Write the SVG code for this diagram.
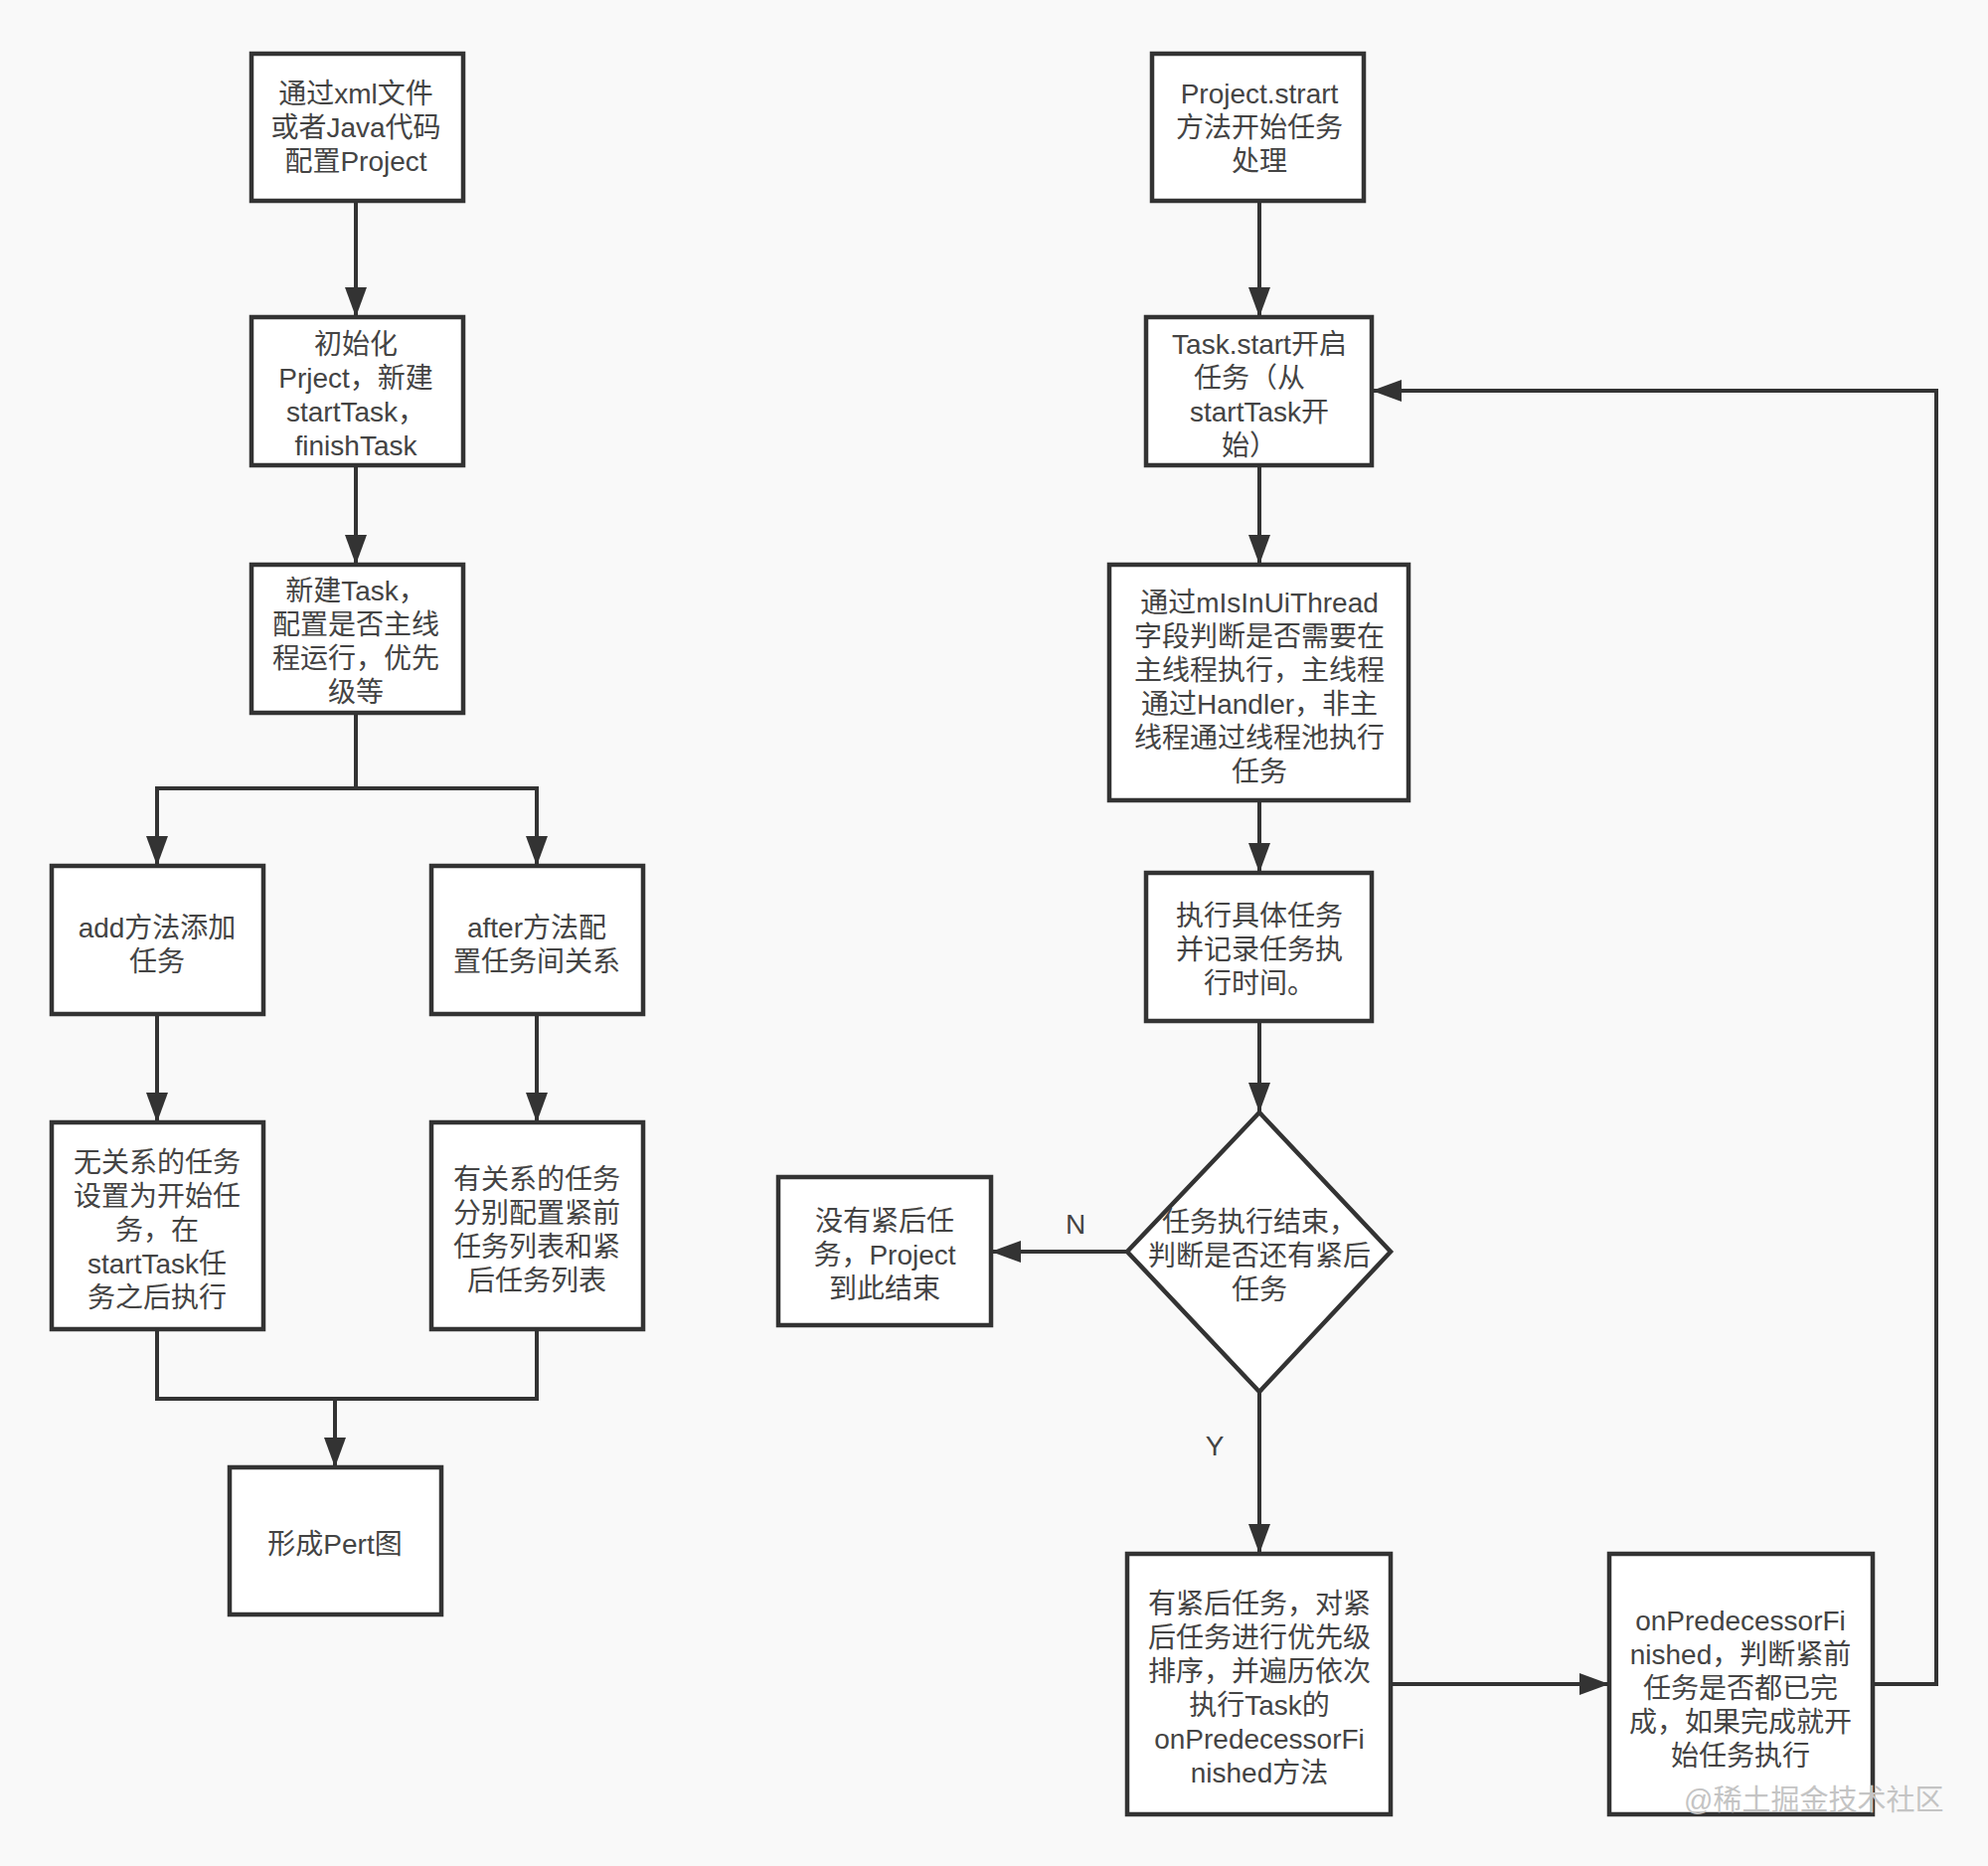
<svg xmlns="http://www.w3.org/2000/svg" width="2000" height="1877" viewBox="0 0 2000 1877">
<defs>
<style>
.box{fill:#ffffff;stroke:#333333;stroke-width:4.5}
.ln{fill:none;stroke:#333333;stroke-width:4}
.t{font-family:"Liberation Sans","Noto Sans CJK SC",sans-serif;font-size:28px;fill:#444444;text-anchor:middle;dominant-baseline:central}
.wm{font-family:"Liberation Sans","Noto Sans CJK SC",sans-serif;font-size:29px;fill:#c4c4c4;dominant-baseline:central}
</style>
<marker id="ah" markerUnits="userSpaceOnUse" markerWidth="30" markerHeight="22" refX="30" refY="11" orient="auto">
<path d="M0,0 L30,11 L0,22 z" fill="#333333"/>
</marker>
</defs>
<rect x="0" y="0" width="2000" height="1877" fill="#f9f9f9"/>

<g id="connectors">
<path class="ln" d="M358,202 V319" marker-end="url(#ah)"/>
<path class="ln" d="M358,468 V568" marker-end="url(#ah)"/>
<path class="ln" d="M358,717 V793"/>
<path class="ln" d="M358,793 H158 V871" marker-end="url(#ah)"/>
<path class="ln" d="M358,793 H540 V871" marker-end="url(#ah)"/>
<path class="ln" d="M158,1020 V1129" marker-end="url(#ah)"/>
<path class="ln" d="M540,1020 V1129" marker-end="url(#ah)"/>
<path class="ln" d="M158,1337 V1407 H540 V1337"/>
<path class="ln" d="M337,1407 V1476" marker-end="url(#ah)"/>
<path class="ln" d="M1267,202 V319" marker-end="url(#ah)"/>
<path class="ln" d="M1267,468 V568" marker-end="url(#ah)"/>
<path class="ln" d="M1267,805 V878" marker-end="url(#ah)"/>
<path class="ln" d="M1267,1027 V1119" marker-end="url(#ah)"/>
<path class="ln" d="M1134,1259 H997" marker-end="url(#ah)"/>
<path class="ln" d="M1267,1400 V1563" marker-end="url(#ah)"/>
<path class="ln" d="M1399,1694 H1619" marker-end="url(#ah)"/>
<path class="ln" d="M1884,1694 H1948 V393 H1380" marker-end="url(#ah)"/>
<text class="t" x="1082" y="1231">N</text>
<text class="t" x="1222" y="1454">Y</text>
</g>

<g id="n1">
<rect class="box" x="253" y="54" width="213" height="148"/>
<text class="t" x="358" y="94">通过xml文件</text>
<text class="t" x="358" y="128">或者Java代码</text>
<text class="t" x="358" y="162">配置Project</text>
</g>
<g id="n2">
<rect class="box" x="253" y="319" width="213" height="149"/>
<text class="t" x="358" y="346">初始化</text>
<text class="t" x="358" y="380">Prject，新建</text>
<text class="t" x="358" y="414">startTask，</text>
<text class="t" x="358" y="448">finishTask</text>
</g>
<g id="n3">
<rect class="box" x="253" y="568" width="213" height="149"/>
<text class="t" x="358" y="594">新建Task，</text>
<text class="t" x="358" y="628">配置是否主线</text>
<text class="t" x="358" y="662">程运行，优先</text>
<text class="t" x="358" y="696">级等</text>
</g>
<g id="n4">
<rect class="box" x="52" y="871" width="213" height="149"/>
<text class="t" x="158" y="933">add方法添加</text>
<text class="t" x="158" y="967">任务</text>
</g>
<g id="n5">
<rect class="box" x="434" y="871" width="213" height="149"/>
<text class="t" x="540" y="933">after方法配</text>
<text class="t" x="540" y="967">置任务间关系</text>
</g>
<g id="n6">
<rect class="box" x="52" y="1129" width="213" height="208"/>
<text class="t" x="158" y="1169">无关系的任务</text>
<text class="t" x="158" y="1203">设置为开始任</text>
<text class="t" x="158" y="1237">务，在</text>
<text class="t" x="158" y="1271">startTask任</text>
<text class="t" x="158" y="1305">务之后执行</text>
</g>
<g id="n7">
<rect class="box" x="434" y="1129" width="213" height="208"/>
<text class="t" x="540" y="1186">有关系的任务</text>
<text class="t" x="540" y="1220">分别配置紧前</text>
<text class="t" x="540" y="1254">任务列表和紧</text>
<text class="t" x="540" y="1288">后任务列表</text>
</g>
<g id="n8">
<rect class="box" x="231" y="1476" width="213" height="148"/>
<text class="t" x="337" y="1553">形成Pert图</text>
</g>

<g id="r1">
<rect class="box" x="1159" y="54" width="213" height="148"/>
<text class="t" x="1267" y="94">Project.strart</text>
<text class="t" x="1267" y="128">方法开始任务</text>
<text class="t" x="1267" y="162">处理</text>
</g>
<g id="r2">
<rect class="box" x="1153" y="319" width="227" height="149"/>
<text class="t" x="1267" y="346">Task.start开启</text>
<text class="t" x="1257" y="380">任务（从</text>
<text class="t" x="1267" y="414">startTask开</text>
<text class="t" x="1257" y="448">始）</text>
</g>
<g id="r3">
<rect class="box" x="1116" y="568" width="301" height="237"/>
<text class="t" x="1267" y="606">通过mIsInUiThread</text>
<text class="t" x="1267" y="640">字段判断是否需要在</text>
<text class="t" x="1267" y="674">主线程执行，主线程</text>
<text class="t" x="1267" y="708">通过Handler，非主</text>
<text class="t" x="1267" y="742">线程通过线程池执行</text>
<text class="t" x="1267" y="776">任务</text>
</g>
<g id="r4">
<rect class="box" x="1153" y="878" width="227" height="149"/>
<text class="t" x="1267" y="921">执行具体任务</text>
<text class="t" x="1267" y="955">并记录任务执</text>
<text class="t" x="1267" y="989">行时间。</text>
</g>
<g id="decision">
<polygon class="box" points="1267,1119 1399,1259 1267,1400 1134,1259"/>
<text class="t" x="1267" y="1229">任务执行结束，</text>
<text class="t" x="1267" y="1263">判断是否还有紧后</text>
<text class="t" x="1267" y="1297">任务</text>
</g>
<g id="noend">
<rect class="box" x="783" y="1184" width="214" height="149"/>
<text class="t" x="890" y="1228">没有紧后任</text>
<text class="t" x="890" y="1262">务，Project</text>
<text class="t" x="890" y="1296">到此结束</text>
</g>
<g id="r5">
<rect class="box" x="1134" y="1563" width="265" height="262"/>
<text class="t" x="1267" y="1613">有紧后任务，对紧</text>
<text class="t" x="1267" y="1647">后任务进行优先级</text>
<text class="t" x="1267" y="1681">排序，并遍历依次</text>
<text class="t" x="1267" y="1715">执行Task的</text>
<text class="t" x="1267" y="1749">onPredecessorFi</text>
<text class="t" x="1267" y="1783">nished方法</text>
</g>
<g id="r6">
<rect class="box" x="1619" y="1563" width="265" height="262"/>
<text class="t" x="1751" y="1630">onPredecessorFi</text>
<text class="t" x="1751" y="1664">nished，判断紧前</text>
<text class="t" x="1751" y="1698">任务是否都已完</text>
<text class="t" x="1751" y="1732">成，如果完成就开</text>
<text class="t" x="1751" y="1766">始任务执行</text>
</g>
<text class="wm" x="1694" y="1811">@稀土掘金技术社区</text>
</svg>
